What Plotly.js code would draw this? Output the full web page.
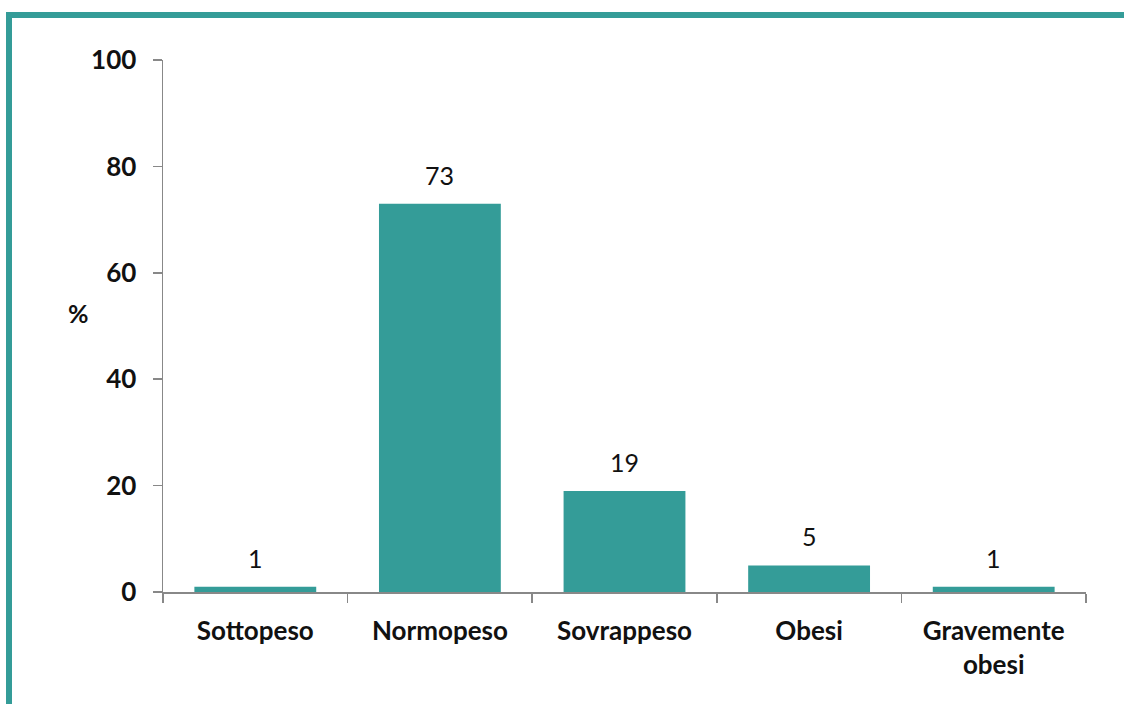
<!DOCTYPE html>
<html>
<head>
<meta charset="utf-8">
<script src="https://cdn.plot.ly/plotly-3.0.1.min.js"></script>
<style>
  html, body { margin: 0; padding: 0; background: #ffffff; }
  #frame { position: absolute; left: 6px; top: 12px; width: 1118px; height: 692px;
           border-left: 6px solid #349C98; border-top: 6px solid #349C98; box-sizing: border-box; }
  #chart { position: absolute; left: 0; top: 0; width: 1124px; height: 704px; }
</style>
</head>
<body>
<div id="frame"></div>
<div id="chart"></div>
<script>
const categories = ["Sottopeso", "Normopeso", "Sovrappeso", "Obesi", "Gravemente<br>obesi"];
const values = [1, 73, 19, 5, 1];
const yTicks = [0, 20, 40, 60, 80, 100];
const yAxisLabel = "%";

const teal = "#349C98";
const axisGray = "#888888";
const fontFam = "Lato, 'Open Sans', sans-serif";

const trace = {
  type: "bar",
  x: categories,
  y: values,
  marker: { color: teal },
  hoverinfo: "none"
};

const annotations = categories.map((c, i) => ({
  x: c, y: values[i], xref: "x", yref: "y",
  text: String(values[i]), showarrow: false,
  yanchor: "bottom", yshift: 12,
  font: { family: fontFam, size: 25, color: "#111111" }
}));
annotations.push({
  xref: "paper", yref: "y", x: -0.092, y: 52.5,
  text: "<b>" + yAxisLabel + "</b>", showarrow: false,
  xanchor: "center", yanchor: "middle",
  font: { family: fontFam, size: 25, color: "#111111" }
});

const layout = {
  width: 1124, height: 704,
  margin: { l: 163, r: 38, t: 60, b: 112 },
  paper_bgcolor: "rgba(0,0,0,0)",
  plot_bgcolor: "rgba(0,0,0,0)",
  showlegend: false,
  bargap: 0.34,
  font: { family: fontFam, color: "#111111" },
  xaxis: {
    type: "category",
    range: [-0.5, 4.5],
    showline: true, linecolor: axisGray, linewidth: 1.5,
    ticks: "outside", ticklen: 9, tickcolor: axisGray, tickwidth: 1.5,
    tickson: "boundaries",
    showgrid: false, zeroline: false,
    tickfont: { family: fontFam, size: 26, color: "#111111", weight: "bold" },
    ticklabelstandoff: 15
  },
  yaxis: {
    range: [0, 100],
    tickvals: yTicks,
    ticktext: yTicks.map(v => String(v)),
    showline: true, linecolor: axisGray, linewidth: 1.5,
    ticks: "outside", ticklen: 9, tickcolor: axisGray, tickwidth: 1.5,
    showgrid: false, zeroline: false,
    tickfont: { family: fontFam, size: 26, color: "#111111", weight: "bold" },
    ticklabelstandoff: 11
  },
  annotations: annotations
};

Plotly.newPlot("chart", [trace], layout, { displayModeBar: false, staticPlot: true });
</script>
</body>
</html>
